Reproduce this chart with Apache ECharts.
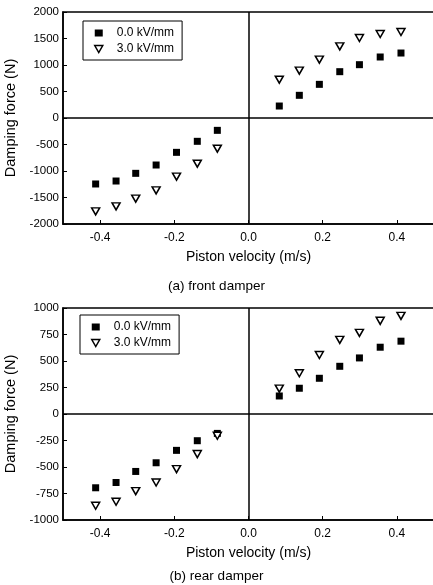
<!DOCTYPE html>
<html>
<head>
<meta charset="utf-8">
<script src="https://cdn.jsdelivr.net/npm/echarts@6/dist/echarts.min.js"></script>
<style>
html,body{margin:0;padding:0;background:#fff;}
#chart{width:433px;height:585px;}
</style>
</head>
<body>
<div id="chart"></div>
<script>
// Piston velocity (m/s)
const velocity = [-0.412,-0.357,-0.304,-0.249,-0.194,-0.138,-0.084,0.083,0.137,0.191,0.246,0.299,0.355,0.411];
// (a) front damper, damping force (N)
const front0kV = [-1245,-1189,-1044,-887,-648,-440,-233,226,428,635,874,1006,1151,1226];
const front3kV = [-1761,-1667,-1522,-1365,-1107,-862,-579,723,893,1101,1352,1509,1585,1623];
// (b) rear damper, damping force (N)
const rear0kV = [-696,-646,-542,-460,-343,-252,-183,170,243,337,450,529,630,687];
const rear3kV = [-866,-828,-728,-646,-520,-378,-205,239,384,557,699,765,879,926];

const seriesNames = ['0.0 kV/mm','3.0 kV/mm'];
const xTicks = [-0.4,-0.2,0.0,0.2,0.4];
const frontRange = [-2000,2000,500];
const rearRange = [-1000,1000,250];
const xTitle = 'Piston velocity (m/s)';
const yTitle = 'Damping force (N)';
const subTitles = ['(a) front damper','(b) rear damper'];

const FONT = 'Liberation Sans, Arial, Helvetica, sans-serif';
const pairs = (xs, ys) => xs.map((x,i)=>[x, ys[i]]);
const TRI_DOWN = 'path://M0,0L8,0L4,7Z';

function xAxisCfg(gi){
  return {
    gridIndex: gi, type:'value', min:-0.5, max:0.5,
    name: xTitle, nameLocation:'middle', nameGap:26,
    nameTextStyle:{fontFamily:FONT,fontSize:14,color:'#000'},
    axisLine:{show:true,onZero:false,lineStyle:{color:'#000',width:1.5}},
    axisTick:{show:true,inside:true,length:4,customValues:xTicks,lineStyle:{color:'#000',width:1}},
    axisLabel:{customValues:xTicks,margin:8,fontFamily:FONT,fontSize:12,color:'#000',
      formatter:v=>Number(v).toFixed(1)},
    splitLine:{show:false}
  };
}
function yAxisCfg(gi, r){
  return {
    gridIndex: gi, type:'value', min:r[0], max:r[1], interval:r[2],
    name: yTitle, nameLocation:'middle', nameGap:41, nameRotate:90,
    nameTextStyle:{fontFamily:FONT,fontSize:14.5,color:'#000'},
    axisLine:{show:true,onZero:false,lineStyle:{color:'#000',width:1.5}},
    axisTick:{show:true,inside:true,length:4,lineStyle:{color:'#000',width:1}},
    axisLabel:{margin:4,fontFamily:FONT,fontSize:11.5,color:'#000',formatter:v=>String(v)},
    splitLine:{show:false}
  };
}
const zeroLines = {
  silent:true, symbol:'none', label:{show:false},
  lineStyle:{color:'#000',width:1.5,type:'solid'},
  data:[{xAxis:0},{yAxis:0}]
};
function sq(name, gi, data, withZero){
  const s = {
    name, type:'scatter', xAxisIndex:gi, yAxisIndex:gi, data,
    symbol:'rect', symbolSize:7,
    itemStyle:{color:'#000',opacity:1}
  };
  if (withZero) s.markLine = zeroLines;
  return s;
}
function tri(name, gi, data){
  return {
    name, type:'scatter', xAxisIndex:gi, yAxisIndex:gi, data,
    symbol:'triangle', symbolRotate:180, symbolSize:[8,7],
    itemStyle:{color:'#fff',borderColor:'#000',borderWidth:1.5,opacity:1}
  };
}
function legendCfg(left, top){
  return {
    left, top, orient:'vertical', selectedMode:false,
    data:[
      {name:seriesNames[0], icon:'rect', itemStyle:{color:'#000',borderWidth:0}},
      {name:seriesNames[1], icon:TRI_DOWN, itemStyle:{color:'#fff',borderColor:'#000',borderWidth:1.5}}
    ],
    itemWidth:8, itemHeight:7, itemGap:4,
    padding:[6,8,5,11],
    borderColor:'#000', borderWidth:1, backgroundColor:'#fff',
    textStyle:{fontFamily:FONT,fontSize:12,color:'#000',padding:[0,0,0,9]}
  };
}
function gridCfg(top){
  return {left:63, top, width:371, height:212, show:true, borderColor:'#000', borderWidth:1.5,
    containLabel:false, outerBoundsMode:'none'};
}

const chart = echarts.init(document.getElementById('chart'), null, {renderer:'canvas'});
chart.setOption({
  backgroundColor:'#fff',
  animation:false,
  grid:[gridCfg(12), gridCfg(308)],
  xAxis:[xAxisCfg(0), xAxisCfg(1)],
  yAxis:[yAxisCfg(0, frontRange), yAxisCfg(1, rearRange)],
  legend:[legendCfg(83,21), legendCfg(80,315)],
  series:[
    sq(seriesNames[0], 0, pairs(velocity, front0kV), true),
    tri(seriesNames[1], 0, pairs(velocity, front3kV)),
    sq(seriesNames[0], 1, pairs(velocity, rear0kV), true),
    tri(seriesNames[1], 1, pairs(velocity, rear3kV))
  ],
  graphic:[
    {type:'text', left:'center', top:279, style:{text:subTitles[0], font:'13.5px '+FONT, fill:'#000'}},
    {type:'text', left:'center', top:569, style:{text:subTitles[1], font:'13.5px '+FONT, fill:'#000'}}
  ]
});
</script>
</body>
</html>
